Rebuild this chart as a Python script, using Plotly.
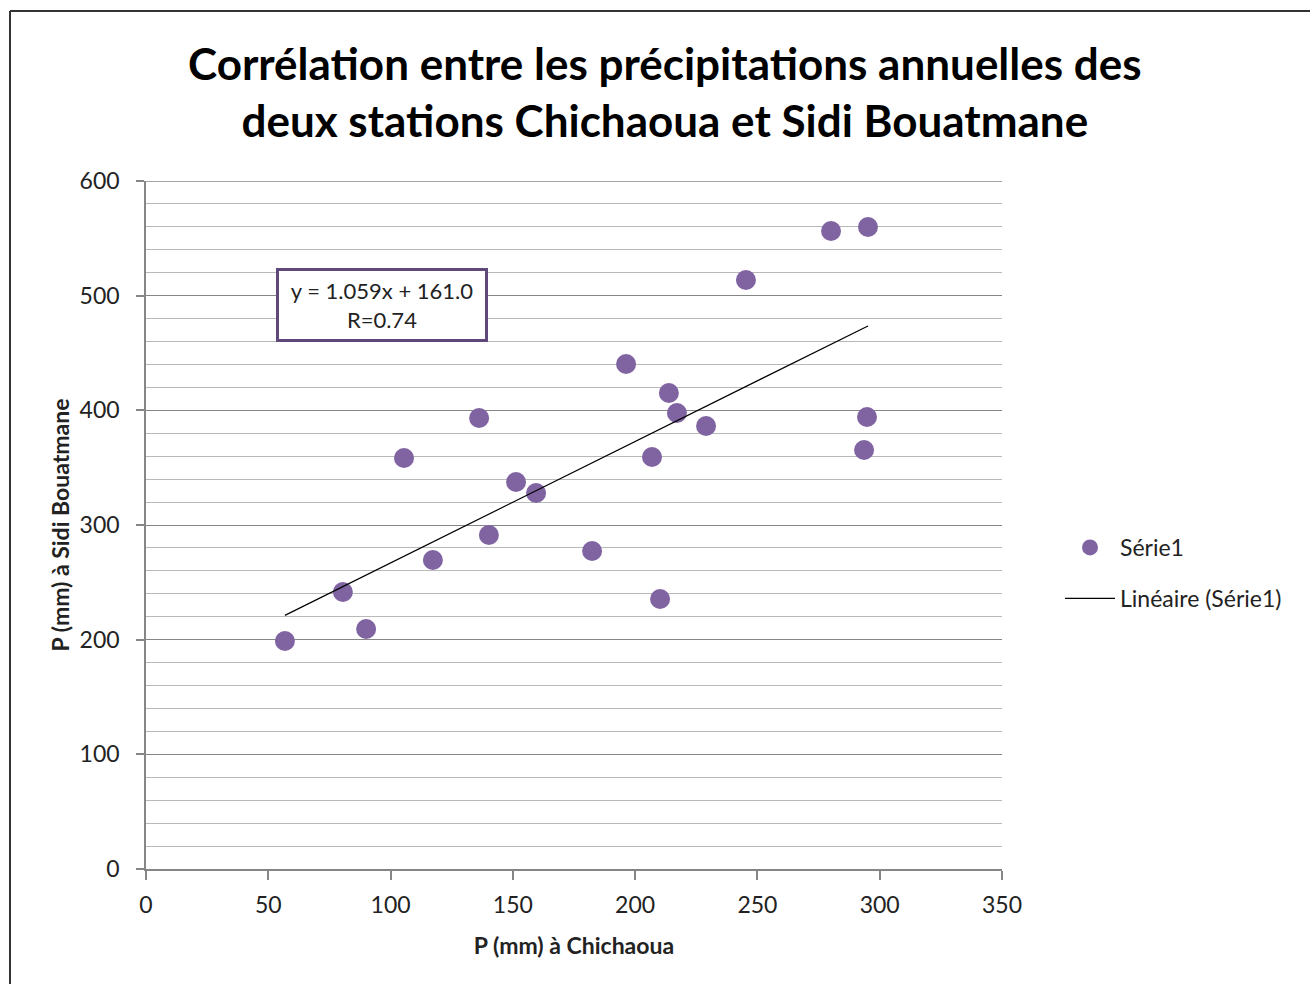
import plotly.graph_objects as go

# Data (P in mm)
chichaoua = [56.8, 80.5, 90.0, 105.5, 117.3, 136.2, 140.2, 151.3, 159.5, 182.4,
             196.3, 206.9, 210.2, 213.8, 217.1, 229.0, 245.3, 280.1, 295.2, 294.8, 293.6]
sidi_bouatmane = [198.8, 241.6, 209.3, 358.4, 269.5, 393.3, 291.3, 337.5, 327.9, 277.3,
                  440.4, 359.3, 235.5, 415.1, 397.7, 386.3, 513.7, 556.4, 559.9, 394.2, 365.4]
slope = 1.059
intercept = 161.0
r_value = 0.74
series_name = "Série1"
trend_name = "Linéaire (Série1)"
title_text = "Corrélation entre les précipitations annuelles des<br>deux stations Chichaoua et Sidi Bouatmane"
x_title = "P (mm) à Chichaoua"
y_title = "P (mm) à Sidi Bouatmane"
y_max = 600

FONT = "Lato"
purple = "#8064A2"
TXT = "#222"

x_line = [min(chichaoua), max(chichaoua)]
y_line = [slope * v + intercept for v in x_line]

fig = go.Figure()
fig.add_trace(go.Scatter(
    x=chichaoua, y=sidi_bouatmane, mode="markers", name=series_name, legendgroup="a",
    marker=dict(color=purple, size=20, line=dict(width=0)),
))
fig.add_trace(go.Scatter(
    x=x_line, y=y_line, mode="lines", name=trend_name, legendgroup="b",
    line=dict(color="black", width=1.2),
))

# paper coordinate helpers (plot area: x 146..1002 px, y 181..869 px)
def px_x(p):
    return (p - 146) / 856

def px_y(p):
    return (869 - p) / 688

fig.update_layout(
    width=1310, height=984,
    margin=dict(l=146, r=308, t=181, b=115),
    paper_bgcolor="white", plot_bgcolor="white",
    font=dict(family=FONT, size=23, color=TXT),
    showlegend=True,
    legend=dict(x=px_x(1060), y=px_y(573), xanchor="left", yanchor="middle",
                font=dict(family=FONT, size=23, color=TXT),
                bgcolor="rgba(0,0,0,0)", itemwidth=50, tracegroupgap=18),
)

fig.update_xaxes(
    range=[0, 350], dtick=50, tick0=0, showgrid=False, zeroline=False,
    showline=True, linecolor="#868686", linewidth=1.5,
    ticks="outside", ticklen=9, tickcolor="#868686", tickwidth=1.5,
    ticklabelstandoff=6,
    tickfont=dict(family=FONT, size=23, color=TXT),
    title=dict(text="<b>" + x_title + "</b>", font=dict(family=FONT, size=23, color=TXT), standoff=21),
)
fig.update_yaxes(
    range=[0, y_max], dtick=100, tick0=0, showgrid=True, gridcolor="#868686", gridwidth=1,
    zeroline=False, showline=True, linecolor="#868686", linewidth=1.5,
    ticks="outside", ticklen=8, tickcolor="#868686", tickwidth=1.5,
    ticklabelstandoff=12,
    tickfont=dict(family=FONT, size=23, color=TXT),
    minor=dict(dtick=20, tick0=0, showgrid=True, gridcolor="#b8b8b8", gridwidth=1),
    title=dict(text="<b>" + y_title + "</b>", font=dict(family=FONT, size=23, color=TXT), standoff=4),
)

# top major gridline (at the axis maximum)
fig.add_shape(type="line", xref="paper", yref="y", x0=0, x1=1, y0=y_max, y1=y_max,
              line=dict(color="#868686", width=1.5), layer="below")

# title
fig.add_annotation(
    x=px_x(665), y=px_y(91), xref="paper", yref="paper", xanchor="center", yanchor="middle",
    text="<b>" + title_text + "</b>", showarrow=False, align="center",
    font=dict(family=FONT, size=44, color="black"),
)

# equation box
eq_text = f"y = {slope:.3f}x + {intercept:.1f}<br>R={r_value:.2f}"
fig.add_annotation(
    x=px_x(382), y=px_y(305), xref="paper", yref="paper", xanchor="center", yanchor="middle",
    text=eq_text, showarrow=False, align="center",
    font=dict(family=FONT, size=22, color=TXT),
    bordercolor="#5F497A", borderwidth=3, borderpad=6, bgcolor="white",
    width=194, height=56,
)

# outer frame
fig.add_shape(type="line", xref="paper", yref="paper",
              x0=px_x(10), x1=px_x(10), y0=px_y(11), y1=px_y(1000),
              line=dict(color="#333", width=2))
fig.add_shape(type="line", xref="paper", yref="paper",
              x0=px_x(10), x1=px_x(1320), y0=px_y(11), y1=px_y(11),
              line=dict(color="#333", width=2))

fig.write_html("out.html")
